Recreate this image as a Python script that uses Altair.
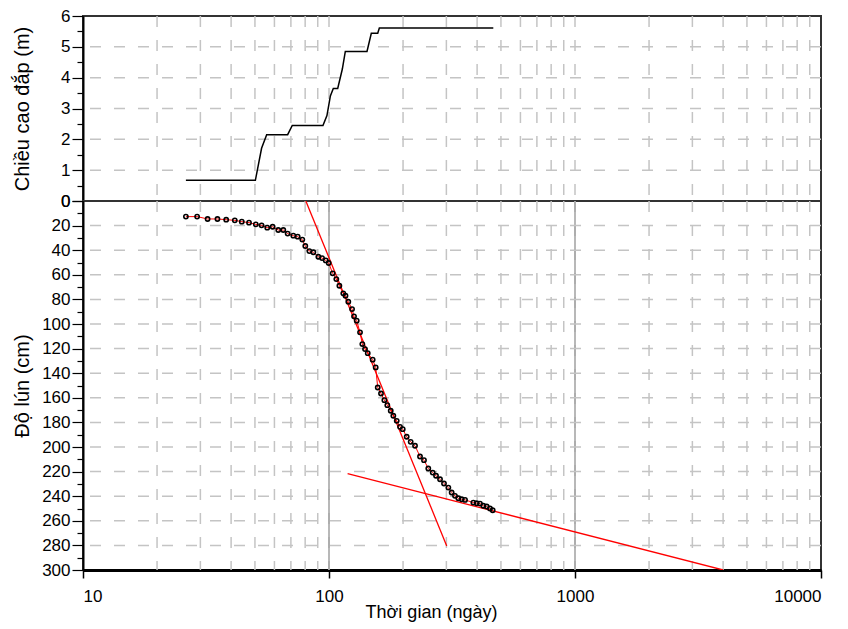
import altair as alt
import pandas as pd

# ---------- data ----------
fill_t = [26.2, 50.2, 53.2, 55.8, 67.9, 70.9, 94.5, 98.1, 101.3, 104.1, 108.5,
          113.3, 116.5, 142.7, 148.6, 157.8, 160.2, 465.5]
fill_h = [0.67, 0.67, 1.71, 2.15, 2.15, 2.45, 2.45, 2.77, 3.41, 3.65, 3.65,
          4.28, 4.85, 4.85, 5.44, 5.44, 5.61, 5.61]

settle_t = [26.2, 29.1, 32.1, 35.2, 38.2, 41.4, 44.2, 47.3, 50.4, 53.2, 56.1, 59.0,
            62.2, 65.2, 67.9, 71.6, 74.6, 77.9, 80.1, 83.2, 86.4, 90.5, 93.7, 97.0,
            99.7, 103.5, 107.1, 110.2, 114.3, 116.7, 119.8, 124.1, 126.4, 129.6,
            133.7, 136.6, 140.1, 143.7, 150.5, 154.8, 157.8, 162.7, 167.9, 172.6,
            178.2, 182.6, 188.5, 194.4, 199.4, 206.9, 214.8, 223.7, 234.4, 243.3,
            253.3, 264.0, 272.3, 282.7, 293.4, 305.6, 315.2, 325.2, 335.5, 346.2,
            357.3, 386.2, 398.5, 411.0, 424.0, 437.5, 451.3, 462.8]
settle_s = [12.7, 12.7, 14.6, 14.6, 15.2, 15.7, 16.8, 17.6, 19.0, 19.8, 21.7, 20.9,
            23.6, 23.6, 26.5, 28.2, 29.0, 31.4, 36.6, 40.7, 41.7, 45.3, 46.4, 48.3,
            50.4, 58.8, 63.5, 68.9, 75.1, 77.0, 81.9, 87.9, 93.8, 97.3,
            106.8, 116.3, 120.4, 123.7, 129.0, 135.3, 151.6, 156.5, 161.9, 166.0,
            170.5, 174.6, 178.7, 183.6, 185.5, 191.7, 195.8, 199.0, 207.7, 210.7,
            217.5, 220.8, 223.4, 226.2, 229.7, 233.0, 237.0, 239.7, 241.7, 242.5,
            243.0, 245.2, 245.7, 246.0, 247.8, 248.4, 250.0, 251.4]

fit_id = ["A", "A", "B", "B"]
fit_t = [80.5, 301.0, 119.0, 4000.0]
fit_s = [0.0, 280.4, 221.6, 300.0]

grid_x = [20, 30, 40, 50, 60, 70, 80, 90, 100, 200, 300, 400, 500, 600, 700, 800,
          900, 1000, 2000, 3000, 4000, 5000, 6000, 7000, 8000, 9000]
solid_x = [100, 1000]
grid_y_top = [1, 2, 3, 4, 5]
grid_y_bot = [20, 40, 60, 80, 100, 120, 140, 160, 180, 200, 220, 240, 260, 280]

x_ticks = [10, 100, 1000, 10000]
y_ticks_top = [i * 0.5 for i in range(13)]
y_ticks_bot = [i * 10 for i in range(31)]

# ---------- tables ----------
fill_df = pd.DataFrame({"t": fill_t, "v": fill_h})
settle_df = pd.DataFrame({"t": settle_t, "v": settle_s})
fit_df = pd.DataFrame({"id": fit_id, "t": fit_t, "v": fit_s})
gx_df = pd.DataFrame({"t": grid_x})
sx_df = pd.DataFrame({"t": solid_x})
gyt_df = pd.DataFrame({"v": grid_y_top})
gyb_df = pd.DataFrame({"v": grid_y_bot})

W = 738
H_TOP = 185
H_BOT = 369
FONT = "Liberation Sans"
GRID = "#c4c4c4"
DASH = [11, 13]

xscale = alt.Scale(type="log", domain=[10, 10000])
yscale_top = alt.Scale(domain=[0, 6])
yscale_bot = alt.Scale(domain=[0, 300], reverse=True)

major_top = "datum.value % 1 === 0"
major_bot = "datum.value % 20 === 0"

y_top_axis = alt.Axis(
    values=y_ticks_top, grid=False, title="Chiều cao đắp (m)",
    labelExpr=f"{major_top} ? format(datum.value, 'd') : ''",
    tickSize={"condition": {"test": major_top, "value": 11}, "value": 6},
    labelPadding=2, titleX=-61, titleY=H_TOP / 2, titleBaseline="middle",
    titleAngle=270, titleAlign="center", titleFontSize=20,
)
y_bot_axis = alt.Axis(
    values=y_ticks_bot, grid=False, title="Độ lún (cm)",
    labelExpr=f"{major_bot} ? format(datum.value, 'd') : ''",
    tickSize={"condition": {"test": major_bot, "value": 11}, "value": 6},
    labelPadding=2, titleX=-61, titleY=H_BOT / 2, titleBaseline="middle",
    titleAngle=270, titleAlign="center", titleFontSize=20,
)
x_bot_axis = alt.Axis(
    values=x_ticks, format="d", grid=False, title="Thời gian (ngày)",
    tickSize=8, labelPadding=10, domainColor="black", domainWidth=3,
    tickColor="black", tickWidth=1.5, titleFontSize=18,
    titleX=348, titleY=42, titleBaseline="middle", titleAnchor="start",
    titleAlign="center",
)

xt = alt.X("t:Q", scale=xscale, axis=None)
yt = alt.Y("v:Q", scale=yscale_top, axis=y_top_axis)
xb = alt.X("t:Q", scale=xscale, axis=x_bot_axis)
yb = alt.Y("v:Q", scale=yscale_bot, axis=y_bot_axis)

# ---------- top panel ----------
top_vgrid = alt.Chart(gx_df).mark_rule(color=GRID, strokeDash=DASH, strokeWidth=1.5).encode(x=xt)
top_hgrid = alt.Chart(gyt_df).mark_rule(color=GRID, strokeDash=DASH, strokeWidth=1.5).encode(y=yt)
top_line = alt.Chart(fill_df).mark_line(color="black", strokeWidth=1.5).encode(x=xt, y=yt)

top = alt.layer(top_vgrid, top_hgrid, top_line).properties(width=W, height=H_TOP)

# ---------- bottom panel ----------
bot_vgrid = alt.Chart(gx_df).mark_rule(color=GRID, strokeDash=DASH, strokeWidth=1.5).encode(x=xb)
bot_solid = alt.Chart(sx_df).mark_rule(color="#a0a0a0", strokeWidth=1.5).encode(x=xb)
bot_hgrid = alt.Chart(gyb_df).mark_rule(color=GRID, strokeDash=DASH, strokeWidth=1.5).encode(y=yb)
fit_lines = alt.Chart(fit_df).mark_line(color="#ff0000", strokeWidth=1.3, clip=True).encode(
    x=xb, y=yb, detail="id:N")
settle_line = alt.Chart(settle_df).mark_line(color="#ff0000", strokeWidth=1).encode(x=xb, y=yb)
settle_pts = alt.Chart(settle_df).mark_point(
    shape="circle", size=18, filled=False, stroke="black", strokeWidth=1.6,
    opacity=1).encode(x=xb, y=yb)

bot = alt.layer(bot_vgrid, bot_solid, bot_hgrid, fit_lines, settle_line, settle_pts).properties(
    width=W, height=H_BOT)

chart = alt.vconcat(top, bot, spacing=0, bounds="flush").properties(
    padding={"left": 3, "top": -2, "right": 5, "bottom": 2}
).configure_view(
    stroke="#333333", strokeWidth=2
).configure_axis(
    labelFont=FONT, titleFont=FONT, labelFontSize=17, labelColor="black",
    titleColor="black", titleFontWeight="normal", domainColor="black",
    domainWidth=2, tickColor="black", tickWidth=1.2,
).resolve_scale(x="independent")

chart.save("out.html", embed_options={"renderer": "svg", "actions": False})
